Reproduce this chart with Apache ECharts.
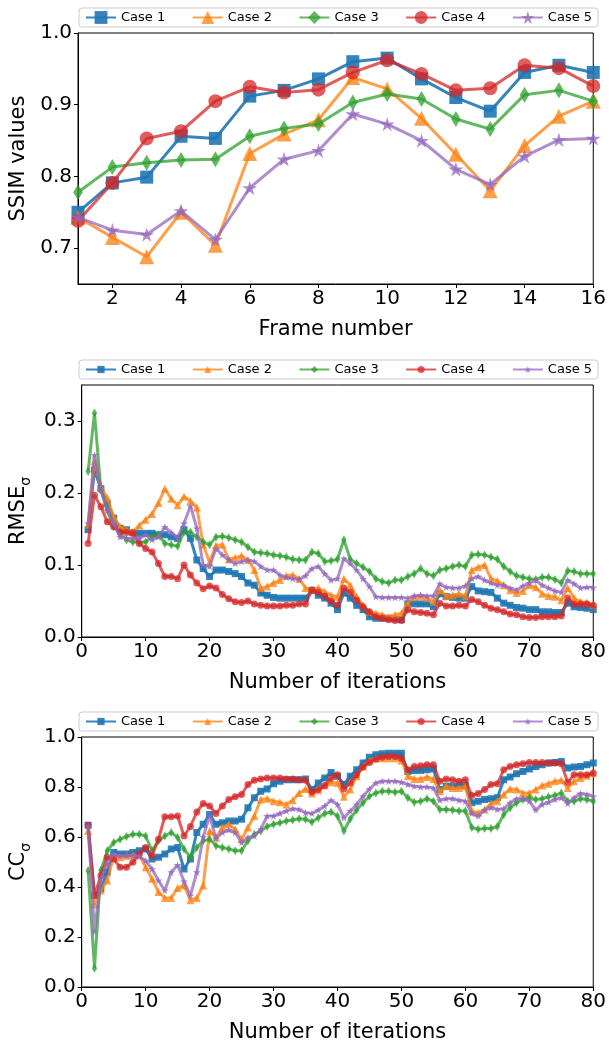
<!DOCTYPE html>
<html>
<head>
<meta charset="utf-8">
<script src="https://cdn.jsdelivr.net/npm/echarts@6/dist/echarts.min.js"></script>
<style>
  html, body { margin: 0; padding: 0; background: #fff; }
  #chart { width: 609px; height: 1044px; }
</style>
</head>
<body>
<div id="chart"></div>
<script>
const caseNames = ["Case 1", "Case 2", "Case 3", "Case 4", "Case 5"];

// top panel: SSIM per frame
const frames = [1, 2, 3, 4, 5, 6, 7, 8, 9, 10, 11, 12, 13, 14, 15, 16];
const ssim1 = [0.750, 0.791, 0.799, 0.856, 0.853, 0.912, 0.920, 0.936, 0.960, 0.965, 0.936, 0.910, 0.891, 0.945, 0.955, 0.945];
const ssim2 = [0.743, 0.715, 0.688, 0.750, 0.704, 0.832, 0.859, 0.879, 0.938, 0.922, 0.881, 0.831, 0.780, 0.843, 0.884, 0.905];
const ssim3 = [0.778, 0.813, 0.819, 0.823, 0.824, 0.856, 0.867, 0.873, 0.903, 0.915, 0.908, 0.880, 0.866, 0.914, 0.920, 0.905];
const ssim4 = [0.738, 0.791, 0.853, 0.863, 0.905, 0.925, 0.917, 0.921, 0.945, 0.962, 0.943, 0.920, 0.923, 0.955, 0.951, 0.926];
const ssim5 = [0.743, 0.725, 0.719, 0.752, 0.712, 0.784, 0.824, 0.836, 0.887, 0.873, 0.850, 0.810, 0.789, 0.828, 0.851, 0.853];

// middle panel: RMSE per iteration (1..80)
const iterations = Array.from({ length: 80 }, (_, i) => i + 1);
const rmse1 = [
  0.149, 0.232, 0.206, 0.186, 0.165, 0.151, 0.149, 0.145, 0.144, 0.144, 0.144, 0.142, 0.142, 0.139, 0.137, 0.149, 0.137, 0.107, 0.095, 0.084, 0.093, 0.093, 0.091, 0.088, 0.084, 0.075, 0.072,
  0.061, 0.058, 0.055, 0.054, 0.054, 0.054, 0.054, 0.054, 0.065, 0.058, 0.054, 0.047, 0.038, 0.061, 0.054, 0.044, 0.038, 0.028, 0.026, 0.026, 0.026, 0.025, 0.024, 0.046, 0.046, 0.046, 0.046,
  0.042, 0.060, 0.056, 0.055, 0.054, 0.054, 0.070, 0.064, 0.063, 0.062, 0.054, 0.047, 0.044, 0.041, 0.040, 0.038, 0.038, 0.035, 0.035, 0.034, 0.034, 0.047, 0.042, 0.041, 0.040, 0.038
];
const rmse2 = [
  0.156, 0.244, 0.209, 0.193, 0.167, 0.153, 0.149, 0.146, 0.155, 0.163, 0.171, 0.186, 0.206, 0.192, 0.183, 0.195, 0.189, 0.180, 0.128, 0.104, 0.127, 0.128, 0.108, 0.110, 0.113, 0.107, 0.093,
  0.068, 0.070, 0.075, 0.079, 0.085, 0.086, 0.081, 0.068, 0.066, 0.068, 0.063, 0.058, 0.056, 0.081, 0.072, 0.056, 0.044, 0.035, 0.033, 0.031, 0.028, 0.031, 0.033, 0.047, 0.056, 0.057, 0.054,
  0.049, 0.065, 0.057, 0.058, 0.060, 0.057, 0.093, 0.097, 0.100, 0.081, 0.078, 0.072, 0.065, 0.061, 0.064, 0.072, 0.069, 0.060, 0.057, 0.056, 0.051, 0.068, 0.054, 0.049, 0.048, 0.044
];
const rmse3 = [
  0.230, 0.311, 0.204, 0.176, 0.153, 0.144, 0.135, 0.132, 0.132, 0.132, 0.139, 0.142, 0.130, 0.128, 0.126, 0.146, 0.146, 0.139, 0.132, 0.128, 0.139, 0.140, 0.138, 0.135, 0.132, 0.125, 0.118,
  0.117, 0.116, 0.114, 0.113, 0.111, 0.108, 0.107, 0.107, 0.118, 0.116, 0.105, 0.106, 0.108, 0.135, 0.108, 0.102, 0.097, 0.091, 0.081, 0.077, 0.075, 0.079, 0.079, 0.084, 0.088, 0.095, 0.088,
  0.085, 0.093, 0.095, 0.098, 0.100, 0.098, 0.114, 0.115, 0.114, 0.111, 0.108, 0.098, 0.091, 0.085, 0.083, 0.081, 0.080, 0.083, 0.083, 0.080, 0.075, 0.092, 0.091, 0.088, 0.088, 0.088
];
const rmse4 = [
  0.130, 0.197, 0.181, 0.160, 0.153, 0.146, 0.145, 0.144, 0.130, 0.123, 0.118, 0.102, 0.084, 0.084, 0.081, 0.100, 0.086, 0.075, 0.067, 0.071, 0.068, 0.059, 0.053, 0.049, 0.048, 0.050, 0.046,
  0.044, 0.043, 0.043, 0.043, 0.044, 0.044, 0.046, 0.046, 0.065, 0.062, 0.057, 0.050, 0.044, 0.068, 0.062, 0.051, 0.042, 0.035, 0.028, 0.026, 0.024, 0.023, 0.023, 0.038, 0.035, 0.034, 0.033,
  0.031, 0.047, 0.043, 0.043, 0.044, 0.043, 0.052, 0.049, 0.044, 0.040, 0.038, 0.035, 0.032, 0.031, 0.028, 0.027, 0.027, 0.028, 0.028, 0.028, 0.029, 0.054, 0.046, 0.046, 0.046, 0.044
];
const rmse5 = [
  0.158, 0.253, 0.204, 0.176, 0.158, 0.139, 0.137, 0.137, 0.137, 0.142, 0.135, 0.139, 0.153, 0.145, 0.138, 0.158, 0.182, 0.151, 0.100, 0.098, 0.123, 0.114, 0.107, 0.102, 0.105, 0.107, 0.105,
  0.098, 0.093, 0.093, 0.086, 0.083, 0.081, 0.080, 0.085, 0.095, 0.098, 0.088, 0.079, 0.081, 0.109, 0.102, 0.093, 0.081, 0.070, 0.056, 0.055, 0.055, 0.055, 0.055, 0.054, 0.057, 0.058, 0.057,
  0.057, 0.074, 0.069, 0.068, 0.068, 0.071, 0.081, 0.084, 0.079, 0.075, 0.072, 0.072, 0.068, 0.065, 0.071, 0.075, 0.079, 0.072, 0.068, 0.064, 0.062, 0.079, 0.074, 0.068, 0.069, 0.069
];

// bottom panel: CC per iteration (1..80)
const cc1 = [
  0.647, 0.366, 0.393, 0.459, 0.538, 0.532, 0.532, 0.538, 0.545, 0.552, 0.512, 0.519, 0.532, 0.552, 0.558, 0.472, 0.512, 0.618, 0.651, 0.690, 0.651, 0.657, 0.664, 0.664, 0.671, 0.717, 0.757,
  0.783, 0.792, 0.813, 0.823, 0.829, 0.829, 0.829, 0.832, 0.790, 0.816, 0.836, 0.858, 0.843, 0.810, 0.843, 0.869, 0.896, 0.919, 0.929, 0.933, 0.935, 0.935, 0.935, 0.862, 0.866, 0.866, 0.869,
  0.872, 0.790, 0.803, 0.803, 0.806, 0.806, 0.737, 0.743, 0.750, 0.753, 0.757, 0.829, 0.840, 0.853, 0.862, 0.872, 0.882, 0.889, 0.896, 0.898, 0.902, 0.876, 0.880, 0.882, 0.889, 0.896
];
const cc2 = [
  0.624, 0.330, 0.386, 0.426, 0.525, 0.519, 0.525, 0.528, 0.528, 0.479, 0.433, 0.380, 0.356, 0.356, 0.396, 0.406, 0.347, 0.356, 0.406, 0.624, 0.598, 0.638, 0.651, 0.631, 0.591, 0.638, 0.684,
  0.750, 0.753, 0.743, 0.739, 0.730, 0.747, 0.776, 0.792, 0.774, 0.787, 0.806, 0.819, 0.816, 0.761, 0.790, 0.843, 0.882, 0.906, 0.915, 0.915, 0.915, 0.915, 0.906, 0.843, 0.832, 0.832, 0.840,
  0.832, 0.783, 0.803, 0.796, 0.796, 0.803, 0.704, 0.697, 0.710, 0.734, 0.743, 0.770, 0.792, 0.790, 0.776, 0.776, 0.790, 0.806, 0.813, 0.823, 0.827, 0.796, 0.823, 0.836, 0.845, 0.856
];
const cc3 = [
  0.466, 0.075, 0.466, 0.545, 0.578, 0.591, 0.602, 0.611, 0.611, 0.604, 0.545, 0.585, 0.604, 0.618, 0.598, 0.552, 0.519, 0.558, 0.585, 0.591, 0.565, 0.558, 0.552, 0.545, 0.545, 0.585, 0.611,
  0.624, 0.642, 0.651, 0.657, 0.664, 0.668, 0.673, 0.671, 0.660, 0.677, 0.694, 0.700, 0.684, 0.624, 0.673, 0.708, 0.737, 0.763, 0.776, 0.783, 0.783, 0.779, 0.783, 0.757, 0.739, 0.743, 0.753,
  0.743, 0.710, 0.710, 0.708, 0.704, 0.704, 0.638, 0.631, 0.634, 0.634, 0.642, 0.690, 0.717, 0.737, 0.750, 0.757, 0.750, 0.753, 0.761, 0.766, 0.776, 0.743, 0.743, 0.753, 0.750, 0.743
];
const cc4 = [
  0.647, 0.366, 0.446, 0.519, 0.512, 0.479, 0.479, 0.499, 0.532, 0.558, 0.525, 0.591, 0.681, 0.681, 0.684, 0.604, 0.642, 0.700, 0.734, 0.724, 0.694, 0.724, 0.750, 0.761, 0.770, 0.810, 0.827,
  0.832, 0.836, 0.836, 0.836, 0.832, 0.832, 0.829, 0.827, 0.779, 0.790, 0.806, 0.836, 0.849, 0.792, 0.816, 0.849, 0.880, 0.898, 0.911, 0.919, 0.922, 0.922, 0.915, 0.869, 0.882, 0.885, 0.889,
  0.889, 0.823, 0.832, 0.829, 0.823, 0.829, 0.766, 0.774, 0.790, 0.810, 0.813, 0.869, 0.882, 0.889, 0.893, 0.898, 0.898, 0.898, 0.896, 0.896, 0.893, 0.819, 0.849, 0.849, 0.849, 0.856
];
const cc5 = [
  0.644, 0.221, 0.433, 0.492, 0.532, 0.525, 0.525, 0.525, 0.522, 0.505, 0.472, 0.426, 0.386, 0.459, 0.488, 0.422, 0.366, 0.459, 0.600, 0.684, 0.594, 0.618, 0.628, 0.618, 0.578, 0.598, 0.604,
  0.631, 0.684, 0.684, 0.694, 0.704, 0.713, 0.710, 0.697, 0.694, 0.708, 0.724, 0.747, 0.730, 0.677, 0.704, 0.730, 0.763, 0.792, 0.816, 0.823, 0.823, 0.823, 0.819, 0.810, 0.803, 0.800, 0.800,
  0.796, 0.747, 0.753, 0.753, 0.747, 0.743, 0.694, 0.684, 0.708, 0.717, 0.710, 0.713, 0.737, 0.753, 0.753, 0.743, 0.708, 0.730, 0.739, 0.750, 0.757, 0.734, 0.757, 0.774, 0.770, 0.763
];

// tick labels
const frameTicks = [2, 4, 6, 8, 10, 12, 14, 16];
const ssimTicks = [0.7, 0.8, 0.9, 1.0];
const rmseTicks = [0.0, 0.1, 0.2, 0.3];
const ccTicks = [0.0, 0.2, 0.4, 0.6, 0.8, 1.0];
const iterTicks = [0, 10, 20, 30, 40, 50, 60, 70, 80];

const FONT = "DejaVu Sans";
const colors = ["#1f77b4", "#ff7f0e", "#2ca02c", "#d62728", "#9467bd"];
const symbols = [
  "rect",
  "triangle",
  "path://M0,-10L6,0L0,10L-6,0Z",
  "circle",
  "path://M0,-10L2.245,-3.09L9.51,-3.09L3.633,1.18L5.878,8.09L0,3.82L-5.878,8.09L-3.633,1.18L-9.51,-3.09L-2.245,-3.09Z",
];
const bigSizes = [13, 15, 16, 14, 15];
const smallSizes = [7, 8, 9, 7, 8];

const chart = echarts.init(document.getElementById("chart"), null, { renderer: "canvas" });

function xAxis(gridIndex, min, max, ticks, name) {
  return {
    type: "value", gridIndex, min, max,
    name, nameLocation: "middle", nameGap: 35,
    nameTextStyle: { fontSize: 21, color: "#000", fontFamily: FONT },
    axisLine: { show: true, onZero: false, lineStyle: { color: "#000", width: 1 } },
    axisTick: { show: true, inside: false, length: 4, customValues: ticks, lineStyle: { color: "#000" } },
    axisLabel: { customValues: ticks, fontSize: 20, color: "#000", margin: 5, fontFamily: FONT },
    splitLine: { show: false },
  };
}

function yAxis(gridIndex, min, max, ticks, name, rich) {
  return {
    type: "value", gridIndex, min, max,
    name, nameLocation: "middle", nameGap: 47, nameRotate: 90,
    nameTextStyle: { fontSize: 21, color: "#000", fontFamily: FONT, rich },
    axisLine: { show: true, lineStyle: { color: "#000", width: 1 } },
    axisTick: { show: true, inside: false, length: 4, customValues: ticks, lineStyle: { color: "#000" } },
    axisLabel: {
      customValues: ticks, fontSize: 20, color: "#000", margin: 6, fontFamily: FONT,
      formatter: (v) => v.toFixed(1),
    },
    splitLine: { show: false },
  };
}

function subRich() {
  return {
    a: { fontSize: 21, fontFamily: FONT, color: "#000", verticalAlign: "bottom", lineHeight: 23, padding: [0, 0, 4, 0] },
    b: { fontSize: 14, fontFamily: FONT, color: "#000", verticalAlign: "bottom", lineHeight: 16 },
  };
}

function legend(top, itemHeight) {
  return {
    data: caseNames, top, left: 79,
    orient: "horizontal", selectedMode: false,
    itemWidth: 30, itemHeight, itemGap: 26.5,
    padding: [3, 6],
    backgroundColor: "#fff", borderColor: "#cccccc", borderWidth: 1, borderRadius: 3,
    textStyle: { fontSize: 13, color: "#000", fontFamily: FONT },
  };
}

function series(gridIdx, xs, rows, sizes) {
  return rows.map((ys, i) => ({
    name: caseNames[i], type: "line",
    xAxisIndex: gridIdx, yAxisIndex: gridIdx,
    data: xs.map((x, j) => [x, ys[j]]),
    symbol: symbols[i], symbolSize: sizes[i], symbolKeepAspect: true,
    showAllSymbol: true,
    lineStyle: { color: colors[i], width: 3, opacity: i === 0 ? 0.9 : 0.75 },
    itemStyle: { color: colors[i], opacity: i === 0 ? 0.9 : 0.75, borderWidth: 0 },
    emphasis: { disabled: true },
    z: 2 + i,
  }));
}

const gridBox = { show: true, borderColor: "#000", borderWidth: 1, backgroundColor: "transparent" };

chart.setOption({
  animation: false,
  backgroundColor: "#fff",
  textStyle: { fontFamily: FONT },
  grid: [
    Object.assign({ left: 78, right: 12, top: 33, height: 251 }, gridBox),
    Object.assign({ left: 78, right: 12, top: 385, height: 252 }, gridBox),
    Object.assign({ left: 78, right: 12, top: 737, height: 252 }, gridBox),
  ],
  legend: [legend(8, 16), legend(360, 9), legend(712, 9)],
  xAxis: [
    xAxis(0, 1, 16, frameTicks, "Frame number"),
    xAxis(1, 0, 80, iterTicks, "Number of iterations"),
    xAxis(2, 0, 80, iterTicks, "Number of iterations"),
  ],
  yAxis: [
    yAxis(0, 0.65, 1.0, ssimTicks, "SSIM values"),
    yAxis(1, 0, 0.35, rmseTicks, "{a|RMSE}{b|σ}", subRich()),
    yAxis(2, 0, 1.0, ccTicks, "{a|CC}{b|σ}", subRich()),
  ],
  series: [
    ...series(0, frames, [ssim1, ssim2, ssim3, ssim4, ssim5], bigSizes),
    ...series(1, iterations, [rmse1, rmse2, rmse3, rmse4, rmse5], smallSizes),
    ...series(2, iterations, [cc1, cc2, cc3, cc4, cc5], smallSizes),
  ],
});
</script>
</body>
</html>
